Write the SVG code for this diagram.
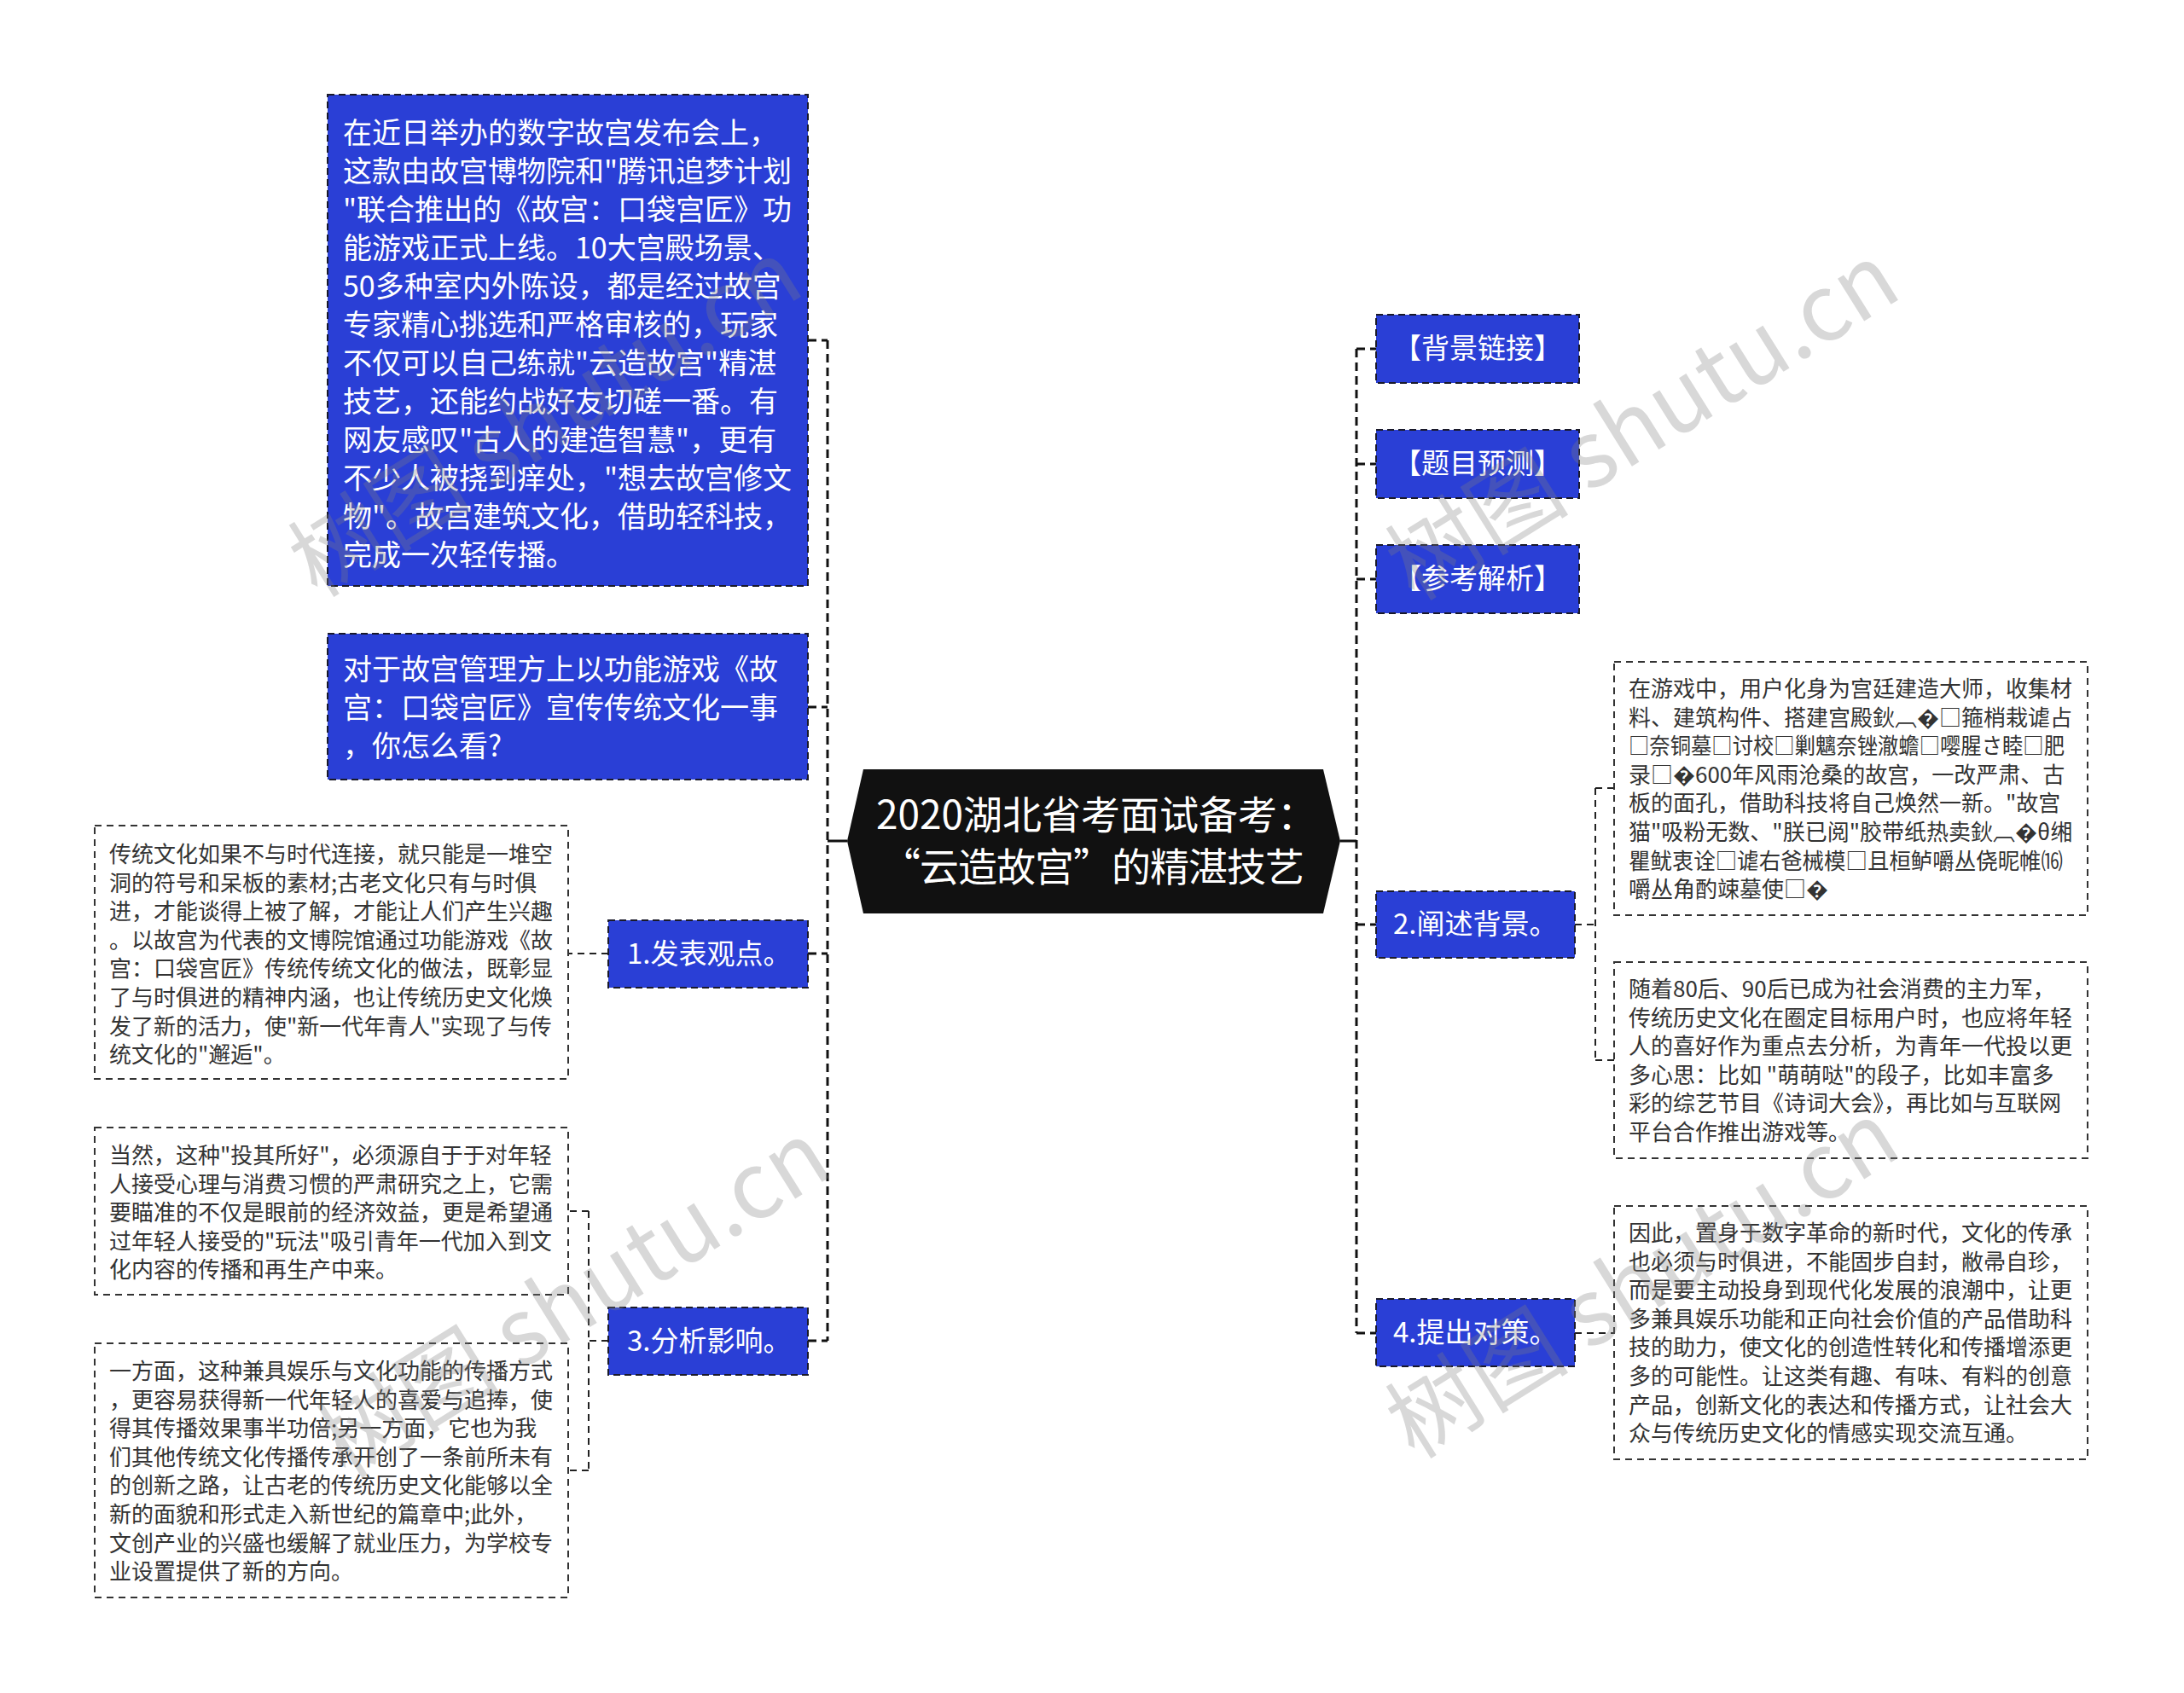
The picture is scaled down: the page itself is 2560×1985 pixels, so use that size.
<svg xmlns="http://www.w3.org/2000/svg" width="2560" height="1985" viewBox="0 0 2560 1985">
<style>
.blue{fill:#2a3fd6;stroke:#1a1a2a;stroke-width:2;stroke-dasharray:8 5}
.note{fill:#ffffff;stroke:#333333;stroke-width:2;stroke-dasharray:8 6}
.tw{font-family:"Noto Sans CJK SC","Noto Sans",sans-serif;fill:#ffffff}
.tb{font-family:"Noto Sans CJK SC","Noto Sans",sans-serif;fill:#333333;font-size:26px}
.big{font-size:34px}
.lab{font-size:33px}
.main{fill:none;stroke:#111111;stroke-width:3;stroke-dasharray:10 6}
.sub{fill:none;stroke:#222222;stroke-width:2;stroke-dasharray:8 6}
.solid{fill:none;stroke:#111111;stroke-width:3}
.wm{font-family:"Noto Sans CJK SC","Liberation Serif",serif;font-size:108px;fill:#808080;opacity:0.3}
</style>
<rect width="2560" height="1985" fill="#ffffff"/>

<g id="connectors">
  <path class="solid" d="M993 986 H970"/>
  <path class="main" d="M970 399 V1572"/>
  <path class="main" d="M947 399 H970 M947 829 H970 M947 1118 H970 M947 1572 H970"/>
  <path class="solid" d="M1571 986 H1590"/>
  <path class="main" d="M1590 409 V1563"/>
  <path class="main" d="M1590 409 H1613 M1590 544 H1613 M1590 679 H1613 M1590 1084 H1613 M1590 1563 H1613"/>
  <path class="sub" d="M713 1118 H666"/>
  <path class="sub" d="M713 1572 H690 M690 1420 V1724 M690 1420 H666 M690 1724 H666"/>
  <path class="sub" d="M1846 1084 H1870 M1870 924 V1243 M1870 924 H1892 M1870 1243 H1892"/>
  <path class="sub" d="M1846 1563 H1892"/>
</g>

<g id="center">
  <polygon points="1012,902 1551,902 1571,986 1551,1071 1012,1071 993,986" fill="#111111"/>
  <text class="tw" font-size="46" x="1027" y="972">2020湖北省考面试备考：</text>
  <text class="tw" font-size="46" x="1033" y="1033" letter-spacing="-1">“云造故宫”的精湛技艺</text>
</g>

<g id="n-intro">
  <rect class="blue" x="384" y="111" width="563" height="576"/>
  <text class="tw big">
    <tspan x="402" y="168">在近日举办的数字故宫发布会上，</tspan>
    <tspan x="402" y="213">这款由故宫博物院和"腾讯追梦计划</tspan>
    <tspan x="402" y="258">"联合推出的《故宫：口袋宫匠》功</tspan>
    <tspan x="402" y="303">能游戏正式上线。10大宫殿场景、</tspan>
    <tspan x="402" y="348">50多种室内外陈设，都是经过故宫</tspan>
    <tspan x="402" y="393">专家精心挑选和严格审核的，玩家</tspan>
    <tspan x="402" y="438">不仅可以自己练就"云造故宫"精湛</tspan>
    <tspan x="402" y="483">技艺，还能约战好友切磋一番。有</tspan>
    <tspan x="402" y="528">网友感叹"古人的建造智慧"，更有</tspan>
    <tspan x="402" y="573">不少人被挠到痒处，"想去故宫修文</tspan>
    <tspan x="402" y="618">物"。故宫建筑文化，借助轻科技，</tspan>
    <tspan x="402" y="663">完成一次轻传播。</tspan>
  </text>
</g>

<g id="n-question">
  <rect class="blue" x="384" y="743" width="563" height="171"/>
  <text class="tw big">
    <tspan x="402" y="797">对于故宫管理方上以功能游戏《故</tspan>
    <tspan x="402" y="842">宫：口袋宫匠》宣传传统文化一事</tspan>
    <tspan x="402" y="887">，你怎么看?</tspan>
  </text>
</g>

<g id="n-1">
  <rect class="blue" x="713" y="1079" width="234" height="79"/>
  <text class="tw lab" x="735" y="1130">1.发表观点。</text>
</g>

<g id="n-1-note">
  <rect class="note" x="111" y="968" width="555" height="297"/>
  <text class="tb">
    <tspan x="128" y="1011">传统文化如果不与时代连接，就只能是一堆空</tspan>
    <tspan x="128" y="1044.6">洞的符号和呆板的素材;古老文化只有与时俱</tspan>
    <tspan x="128" y="1078.2">进，才能谈得上被了解，才能让人们产生兴趣</tspan>
    <tspan x="128" y="1111.8">。以故宫为代表的文博院馆通过功能游戏《故</tspan>
    <tspan x="128" y="1145.4">宫：口袋宫匠》传统传统文化的做法，既彰显</tspan>
    <tspan x="128" y="1179">了与时俱进的精神内涵，也让传统历史文化焕</tspan>
    <tspan x="128" y="1212.6">发了新的活力，使"新一代年青人"实现了与传</tspan>
    <tspan x="128" y="1246.2">统文化的"邂逅"。</tspan>
  </text>
</g>

<g id="n-3">
  <rect class="blue" x="713" y="1533" width="234" height="79"/>
  <text class="tw lab" x="735" y="1584">3.分析影响。</text>
</g>

<g id="n-3-note-a">
  <rect class="note" x="111" y="1322" width="555" height="196"/>
  <text class="tb">
    <tspan x="128" y="1364">当然，这种"投其所好"，必须源自于于对年轻</tspan>
    <tspan x="128" y="1397.6">人接受心理与消费习惯的严肃研究之上，它需</tspan>
    <tspan x="128" y="1431.2">要瞄准的不仅是眼前的经济效益，更是希望通</tspan>
    <tspan x="128" y="1464.8">过年轻人接受的"玩法"吸引青年一代加入到文</tspan>
    <tspan x="128" y="1498.4">化内容的传播和再生产中来。</tspan>
  </text>
</g>

<g id="n-3-note-b">
  <rect class="note" x="111" y="1575" width="555" height="298"/>
  <text class="tb">
    <tspan x="128" y="1617">一方面，这种兼具娱乐与文化功能的传播方式</tspan>
    <tspan x="128" y="1650.6">，更容易获得新一代年轻人的喜爱与追捧，使</tspan>
    <tspan x="128" y="1684.2">得其传播效果事半功倍;另一方面，它也为我</tspan>
    <tspan x="128" y="1717.8">们其他传统文化传播传承开创了一条前所未有</tspan>
    <tspan x="128" y="1751.4">的创新之路，让古老的传统历史文化能够以全</tspan>
    <tspan x="128" y="1785">新的面貌和形式走入新世纪的篇章中;此外，</tspan>
    <tspan x="128" y="1818.6">文创产业的兴盛也缓解了就业压力，为学校专</tspan>
    <tspan x="128" y="1852.2">业设置提供了新的方向。</tspan>
  </text>
</g>

<g id="n-bg-link">
  <rect class="blue" x="1613" y="369" width="238" height="80"/>
  <text class="tw lab" x="1732" y="420" text-anchor="middle">【背景链接】</text>
</g>

<g id="n-predict">
  <rect class="blue" x="1613" y="504" width="238" height="80"/>
  <text class="tw lab" x="1732" y="555" text-anchor="middle">【题目预测】</text>
</g>

<g id="n-analysis">
  <rect class="blue" x="1613" y="639" width="238" height="80"/>
  <text class="tw lab" x="1732" y="690" text-anchor="middle">【参考解析】</text>
</g>

<g id="n-2">
  <rect class="blue" x="1613" y="1045" width="233" height="78"/>
  <text class="tw lab" x="1633" y="1095">2.阐述背景。</text>
</g>

<g id="n-2-note-a">
  <rect class="note" x="1892" y="776" width="555" height="297"/>
  <text class="tb" x="1909" y="817">在游戏中，用户化身为宫廷建造大师，收集材</text>
  <text class="tb" x="1909" y="850.6">料、建筑构件、搭建宫殿鈥︹�□箍梢栽谑占</text>
  <text class="tb" x="1909" y="884.2" textLength="511" lengthAdjust="spacingAndGlyphs">□奈铜墓□讨校□剿魑奈锉澈蟾□嘤腥さ睦□肥</text>
  <text class="tb" x="1909" y="917.8">录□�600年风雨沧桑的故宫，一改严肃、古</text>
  <text class="tb" x="1909" y="951.4">板的面孔，借助科技将自己焕然一新。"故宫</text>
  <text class="tb" x="1909" y="985">猫"吸粉无数、"朕已阅"胶带纸热卖鈥︹�θ缃</text>
  <text class="tb" x="1909" y="1018.6" textLength="509" lengthAdjust="spacingAndGlyphs">瞿鱿衷诠□谑右爸械模□且桓鲈嚼丛侥昵帷⒃</text>
  <text class="tb" x="1909" y="1052.2">嚼丛角酌竦墓使□�</text>
</g>

<g id="n-2-note-b">
  <rect class="note" x="1892" y="1128" width="555" height="230"/>
  <text class="tb">
    <tspan x="1909" y="1169">随着80后、90后已成为社会消费的主力军，</tspan>
    <tspan x="1909" y="1202.6">传统历史文化在圈定目标用户时，也应将年轻</tspan>
    <tspan x="1909" y="1236.2">人的喜好作为重点去分析，为青年一代投以更</tspan>
    <tspan x="1909" y="1269.8">多心思：比如 "萌萌哒"的段子，比如丰富多</tspan>
    <tspan x="1909" y="1303.4">彩的综艺节目《诗词大会》，再比如与互联网</tspan>
    <tspan x="1909" y="1337">平台合作推出游戏等。</tspan>
  </text>
</g>

<g id="n-4">
  <rect class="blue" x="1613" y="1523" width="233" height="79"/>
  <text class="tw lab" x="1633" y="1574">4.提出对策。</text>
</g>

<g id="n-4-note">
  <rect class="note" x="1892" y="1414" width="555" height="297"/>
  <text class="tb">
    <tspan x="1909" y="1455">因此，置身于数字革命的新时代，文化的传承</tspan>
    <tspan x="1909" y="1488.6">也必须与时俱进，不能固步自封，敝帚自珍，</tspan>
    <tspan x="1909" y="1522.2">而是要主动投身到现代化发展的浪潮中，让更</tspan>
    <tspan x="1909" y="1555.8">多兼具娱乐功能和正向社会价值的产品借助科</tspan>
    <tspan x="1909" y="1589.4">技的助力，使文化的创造性转化和传播增添更</tspan>
    <tspan x="1909" y="1623">多的可能性。让这类有趣、有味、有料的创意</tspan>
    <tspan x="1909" y="1656.6">产品，创新文化的表达和传播方式，让社会大</tspan>
    <tspan x="1909" y="1690.2">众与传统历史文化的情感实现交流互通。</tspan>
  </text>
</g>

<g id="watermarks">
  <text class="wm" transform="translate(372 702) rotate(-32)">树图 shutu.cn</text>
  <text class="wm" transform="translate(1658 706) rotate(-32)">树图 shutu.cn</text>
  <text class="wm" transform="translate(405 1735) rotate(-32)">树图 shutu.cn</text>
  <text class="wm" transform="translate(1658 1712) rotate(-32)">树图 shutu.cn</text>
</g>
</svg>
